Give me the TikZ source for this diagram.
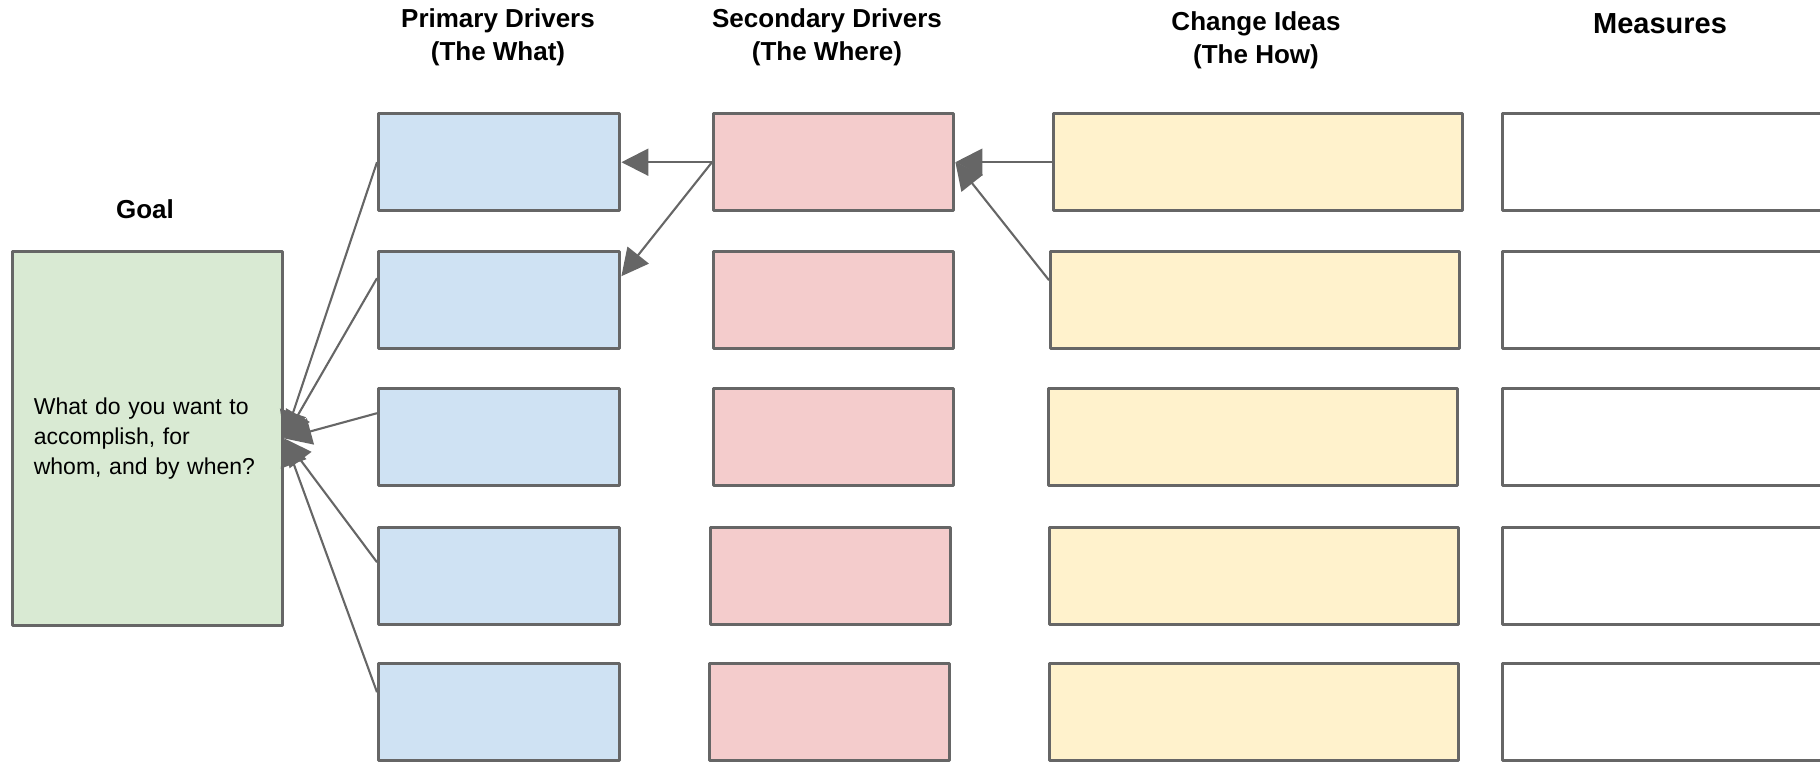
\documentclass[tikz,border=0pt]{standalone}
\usepackage{fontspec}
\setmainfont{Liberation Sans}
\usetikzlibrary{arrows.meta}

\definecolor{edgegray}{HTML}{666666}
\definecolor{goalgreen}{HTML}{D9EAD3}
\definecolor{primblue}{HTML}{CFE2F3}
\definecolor{secpink}{HTML}{F4CCCC}
\definecolor{ideayellow}{HTML}{FFF2CC}

\tikzset{
  box/.style={draw=edgegray, line width=1.7pt, line join=round, inner sep=0pt,
    anchor=north west, minimum height=48.5pt},
  goalbox/.style={box, fill=goalgreen, minimum width=135.25pt, minimum height=186.75pt,
    text width=113.6pt, inner xsep=10.8pt, align=left,
    font=\fontsize{11.5}{15.2}\selectfont},
  primarybox/.style={box, fill=primblue, minimum width=120.5pt},
  secondbox/.style={box, fill=secpink, minimum width=120pt},
  ideabox/.style={box, fill=ideayellow, minimum width=204.5pt},
  measurebox/.style={box, fill=white, minimum width=170pt},
  head/.style={font=\fontsize{13}{16.5}\selectfont\bfseries, align=center},
  link/.style={draw=edgegray, line width=1.05pt, -{Triangle[length=13.5pt,width=13.5pt]}}
}

\begin{document}
\begin{tikzpicture}[x=0.5pt,y=-0.5pt]
   \useasboundingbox (0,0) rectangle (1820,761);
   % column heads
   \node[head] (hgoal) at (145,209) {Goal};
   \node[head] (hprimary) at (498,37) {Primary Drivers\\(The What)};
   \node[head] (hsecond) at (827,37) {Secondary Drivers\\(The Where)};
   \node[head] (hidea) at (1256,40) {Change Ideas\\(The How)};
   \node[head, font=\fontsize{14.5}{16.5}\selectfont\bfseries] (hmeasure) at (1660,24) {Measures};
   % goal
   \node[goalbox] (goal) at (10.5,250) {What do you want to\\accomplish, for\\whom, and by when?};
   % rows of boxes
   \foreach \i/\y/\sx/\cx in {1/112/712/1052, 2/250/712/1049, 3/387/712/1047, 4/526/709/1048, 5/662/708/1048} {
      \node[primarybox] (P\i) at (377,\y) {};
      \node[secondbox] (S\i) at (\sx,\y) {};
      \node[ideabox] (C\i) at (\cx,\y) {};
      \node[measurebox] (M\i) at (1501,\y) {};
   }
   % connectors
   \foreach \i/\s in {1/0, 2/11, 3/12, 4/7, 5/10}
      \draw[link] ([yshift=\s pt]P\i.west) -- (goal.east);
   \draw[link] (S1.west) -- (P1.east);
   \draw[link] (S1.west) -- ([yshift=12pt]P2.east);
   \draw[link] (C1.west) -- (S1.east);
   \draw[link] ([yshift=10pt]C2.west) -- (S1.east);
\end{tikzpicture}
\end{document}
